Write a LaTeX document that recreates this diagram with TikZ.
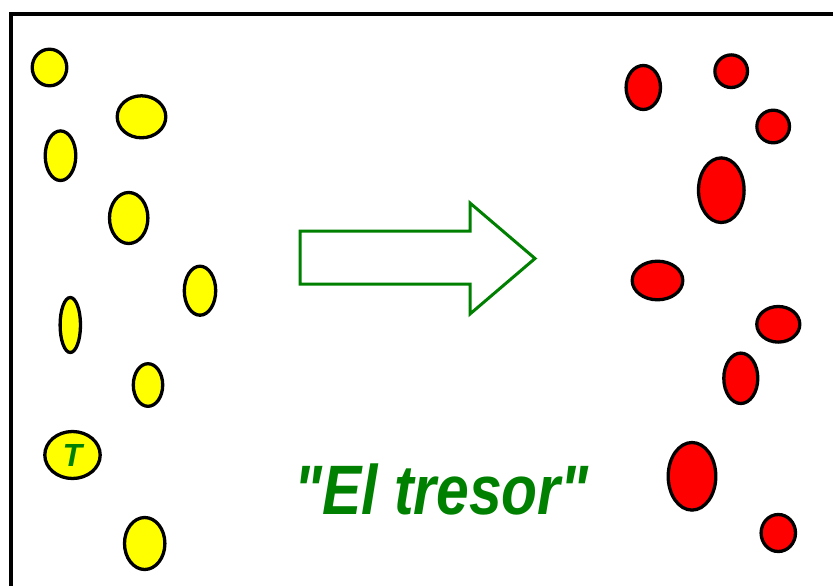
\documentclass[tikz,border=0pt]{standalone}
\usepackage{fontspec}
\newfontfamily\capfont{Liberation Sans}
\usetikzlibrary{shapes.geometric}
\definecolor{dgreen}{RGB}{0,128,0}
\definecolor{yel}{RGB}{255,255,0}
\definecolor{rd}{RGB}{255,0,0}
\tikzset{
  blob/.style={ellipse, draw=black, line width=3.3pt, inner sep=0pt, outer sep=0pt},
  yblob/.style={blob, fill=yel},
  rblob/.style={blob, fill=rd},
  frameline/.style={draw=black, line width=4pt},
  blockarrow/.style={draw=dgreen, line width=3pt, line join=miter, fill=white}
}
\newcommand{\blob}[6]{\node[#1, minimum width=#4pt, minimum height=#5pt] (#6) at (#2,#3) {};}
\begin{document}
\begin{tikzpicture}[x=1pt,y=-1pt]
\useasboundingbox (0,0) rectangle (833,586);
\fill[white] (0,0) rectangle (833,586);
% frame (open to the right and bottom)
\draw[frameline] (11,590) -- (11,13.7) -- (840,13.7);
% yellow blobs
\blob{yblob}{49.5}{67.5}{34.6}{36.6}{y1}
\blob{yblob}{141.5}{116.8}{48.6}{42}{y2}
\blob{yblob}{60.5}{155.7}{30.6}{49.6}{y3}
\blob{yblob}{128.7}{218}{38.4}{51}{y4}
\blob{yblob}{200}{290.7}{31.4}{49}{y5}
\blob{yblob}{70.3}{325}{20.4}{55}{y6}
\blob{yblob}{148}{385}{29.4}{42.6}{y7}
\node[yblob, minimum width=55.4pt, minimum height=47pt, text=dgreen,
      font=\capfont\bfseries\itshape\fontsize{32}{34}\selectfont] (yt) at (72.5,455) {T};
\blob{yblob}{144.7}{543.5}{40.4}{52}{y9}
% red blobs
\blob{rblob}{643.3}{87.5}{34.4}{44}{r1}
\blob{rblob}{731.2}{71.2}{32.6}{32.6}{r2}
\blob{rblob}{773.2}{126.5}{32.6}{32.6}{r3}
\blob{rblob}{721.3}{190.2}{45.6}{64.6}{r4}
\blob{rblob}{657.5}{280.5}{50.6}{38.6}{r5}
\blob{rblob}{778.3}{324.3}{43}{35.6}{r6}
\blob{rblob}{740.8}{378.3}{34}{50.4}{r7}
\blob{rblob}{692}{476.3}{47.6}{67.6}{r8}
\blob{rblob}{778.3}{533}{34.4}{37}{r9}
% block arrow
\coordinate (a1) at (300,231);
\coordinate (a2) at (470,231);
\coordinate (a3) at (470,203);
\coordinate (a4) at (535,258.5);
\coordinate (a5) at (470,314);
\coordinate (a6) at (470,284);
\coordinate (a7) at (300,284);
\draw[blockarrow] (a1) -- (a2) -- (a3) -- (a4) -- (a5) -- (a6) -- (a7) -- cycle;
% caption
\node[anchor=base, inner sep=0pt, text=dgreen,
      font=\capfont\bfseries\itshape\fontsize{70}{80}\selectfont] (cap) at (441.5,514)
  {\scalebox{0.84}[1]{"El tresor"}};
\end{tikzpicture}
\end{document}
